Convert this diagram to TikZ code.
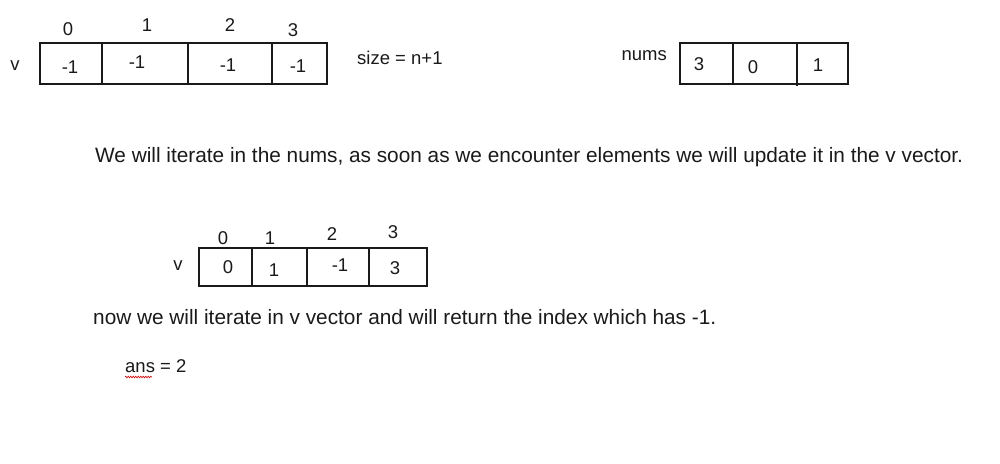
\documentclass[tikz,border=0pt]{standalone}
\usepackage{fontspec}
\setmainfont{Liberation Sans}
\usetikzlibrary{decorations.pathmorphing}
\definecolor{ink}{HTML}{1A1A1A}
\begin{document}
\begin{tikzpicture}[x=1pt,y=-1pt,
  cellline/.style={draw=ink,line width=1.8pt},
  txt/.style={text=ink,inner sep=0pt,font=\fontsize{18.5}{21}\selectfont},
  bigtxt/.style={text=ink,inner sep=0pt,anchor=west,font=\fontsize{20.8}{24}\selectfont}]
\useasboundingbox[fill=white] (0,0) rectangle (1000,463);
% top v array
\draw[cellline] (40,43) rectangle (327,84);
\draw[cellline] (102,43) -- (102,84);
\draw[cellline] (188,43) -- (188,84);
\draw[cellline] (272,43) -- (272,84);
\node[txt] (i0) at (68,29) {0};
\node[txt] (i1) at (147,25) {1};
\node[txt] (i2) at (230,25) {2};
\node[txt] (i3) at (293,30) {3};
\node[txt] (vlab) at (15,66) {v};
\node[txt] (a0) at (70,67) {-1};
\node[txt] (a1) at (137,62) {-1};
\node[txt] (a2) at (228,65) {-1};
\node[txt] (a3) at (298,66) {-1};
\node[txt,anchor=west] (size) at (357,58) {size = n+1};
% nums array
\node[txt,anchor=east] (numslab) at (667,56) {nums};
\draw[cellline] (680,43) rectangle (848,84);
\draw[cellline] (733,43) -- (733,84);
\draw[cellline] (797,43) -- (797,86);
\node[txt] (n0) at (699,64) {3};
\node[txt] (n1) at (753,67) {0};
\node[txt] (n2) at (818,65) {1};
% sentence
\node[bigtxt] (s1) at (95,157) {We will iterate in the nums, as soon as we encounter elements we will update it in the v vector.};
% middle v array
\draw[cellline] (199,248) rectangle (427,286);
\draw[cellline] (252,248) -- (252,286);
\draw[cellline] (307,248) -- (307,286);
\draw[cellline] (369,248) -- (369,286);
\node[txt] (j0) at (223,238) {0};
\node[txt] (j1) at (270,238) {1};
\node[txt] (j2) at (332,234) {2};
\node[txt] (j3) at (393,232) {3};
\node[txt] (vlab2) at (178,266) {v};
\node[txt] (b0) at (228,267) {0};
\node[txt] (b1) at (274,270) {1};
\node[txt] (b2) at (340,265) {-1};
\node[txt] (b3) at (395,268) {3};
% second sentence
\node[bigtxt] (s2) at (93,317) {now we will iterate in v vector and will return the index which has -1.};
\node[txt,anchor=west] (ans) at (125,366) {ans = 2};
\coordinate (w0) at (125,377);
\coordinate (w1) at (152,377);
\draw[red!80!black,line width=0.6pt,decorate,decoration={snake,amplitude=0.8pt,segment length=2.5pt}] (w0) -- (w1);
\end{tikzpicture}
\end{document}
